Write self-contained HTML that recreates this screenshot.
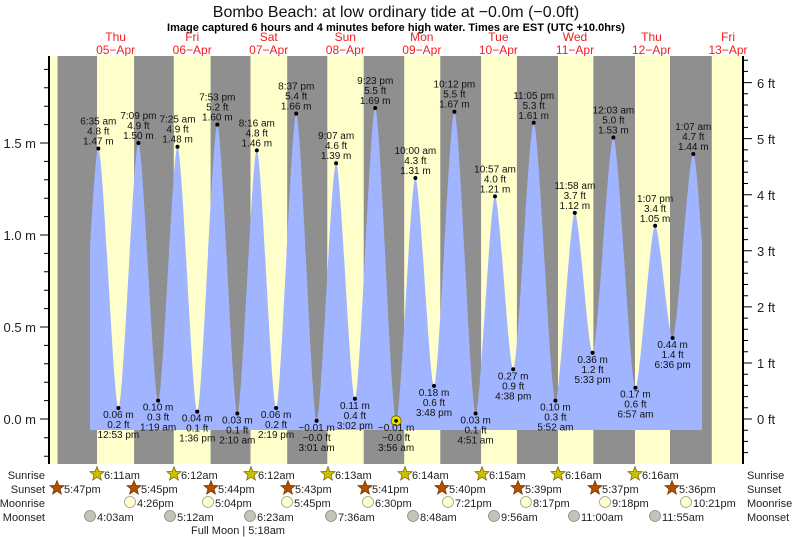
<!DOCTYPE html>
<html><head><meta charset="utf-8"><style>
html,body{margin:0;padding:0;background:#fff;}
svg{display:block;font-family:"Liberation Sans",sans-serif;}
.l text{font-size:10px;text-anchor:middle;fill:#111;}
.r{font-size:11px;fill:#222;}
.rl{font-size:11px;fill:#222;}
</style></head><body>
<svg width="793" height="537" viewBox="0 0 793 537" xmlns="http://www.w3.org/2000/svg">
<defs>
<clipPath id="c"><rect x="90" y="56" width="612" height="408"/></clipPath>
<polygon id="st" points="0,-7.5 1.88,-2.59 7.13,-2.32 3.04,0.99 4.41,6.07 0,3.2 -4.41,6.07 -3.04,0.99 -7.13,-2.32 -1.88,-2.59"/>
</defs>
<text x="396" y="17" font-size="16" text-anchor="middle" fill="#111">Bombo Beach: at low  ordinary tide at −0.0m (−0.0ft)</text>
<text x="396" y="31" font-size="11" font-weight="bold" text-anchor="middle" fill="#000">Image captured 6 hours and 4 minutes before high water. Times are EST (UTC +10.0hrs)</text>
<g font-size="12" fill="#f02020" text-anchor="middle">
<text x="115.6" y="41">Thu</text><text x="115.6" y="54">05−Apr</text>
<text x="192.2" y="41">Fri</text><text x="192.2" y="54">06−Apr</text>
<text x="268.7" y="41">Sat</text><text x="268.7" y="54">07−Apr</text>
<text x="345.3" y="41">Sun</text><text x="345.3" y="54">08−Apr</text>
<text x="421.8" y="41">Mon</text><text x="421.8" y="54">09−Apr</text>
<text x="498.4" y="41">Tue</text><text x="498.4" y="54">10−Apr</text>
<text x="575" y="41">Wed</text><text x="575" y="54">11−Apr</text>
<text x="651.5" y="41">Thu</text><text x="651.5" y="54">12−Apr</text>
<text x="728" y="41">Fri</text><text x="728" y="54">13−Apr</text>
</g>
<rect x="49" y="56" width="694" height="408" fill="#ffffcc"/>
<g fill="#8f8f8f">
<rect x="57.5" y="56" width="39.5" height="408"/>
<rect x="134.1" y="56" width="39.7" height="408"/>
<rect x="210.6" y="56" width="39.9" height="408"/>
<rect x="287.2" y="56" width="40.1" height="408"/>
<rect x="363.7" y="56" width="40.5" height="408"/>
<rect x="440.3" y="56" width="40.8" height="408"/>
<rect x="516.9" y="56" width="41.1" height="408"/>
<rect x="593.4" y="56" width="41.6" height="408"/>
<rect x="670" y="56" width="41.8" height="408"/>
</g>
<path clip-path="url(#c)" fill="#a0b4ff" d="M78.4,430 L78.4,404.3 C83.4,404.3 93.3,148.5 98.3,148.5 C103.3,148.5 113.4,408 118.4,408 C123.4,408 133.4,143 138.4,143 C143.3,143 153.2,400.6 158.1,400.6 C163,400.6 172.6,146.7 177.5,146.7 C182.4,146.7 192.3,411.6 197.2,411.6 C202.2,411.6 212.3,124.6 217.3,124.6 C222.3,124.6 232.3,413.5 237.3,413.5 C242.2,413.5 251.9,150.4 256.8,150.4 C261.7,150.4 271.2,408 276.1,408 C281.1,408 291.2,113.6 296.2,113.6 C301.3,113.6 311.5,420.8 316.6,420.8 C321.5,420.8 331.2,163.2 336.1,163.2 C340.9,163.2 350.1,398.8 354.9,398.8 C360,398.8 370.1,108 375.2,108 C380.4,108 390.9,420.8 396.1,420.8 C401,420.8 410.5,178 415.4,178 C420.1,178 429.3,385.9 434,385.9 C439.1,385.9 449.3,111.7 454.4,111.7 C459.6,111.7 470.4,413.5 475.6,413.5 C480.5,413.5 490.1,196.4 495,196.4 C499.6,196.4 508.6,369.3 513.2,369.3 C518.3,369.3 528.6,122.8 533.7,122.8 C539,122.8 550.1,400.6 555.4,400.6 C560.3,400.6 569.9,212.9 574.8,212.9 C579.4,212.9 588,352.8 592.6,352.8 C597.8,352.8 608.2,137.5 613.4,137.5 C618.8,137.5 630,387.7 635.4,387.7 C640.3,387.7 650.2,225.8 655.1,225.8 C659.6,225.8 668.1,338 672.6,338 C677.7,338 688.2,154 693.3,154 C698.4,154 708.6,373 713.7,373 L713.7,430 Z"/>
<line x1="49" y1="56" x2="49" y2="464" stroke="#000" stroke-width="2"/>
<line x1="743" y1="56" x2="743" y2="464" stroke="#000" stroke-width="2"/>
<g stroke="#000" stroke-width="1">
<path d="M44,456.2H49M44,437.8H49M40,419H49M44,400.6H49M44,382.2H49M44,363.8H49M44,345.4H49M40,327H49M44,308.6H49M44,290.2H49M44,271.8H49M44,253.4H49M40,235H49M44,216.6H49M44,198.2H49M44,179.8H49M44,161.4H49M40,143H49M44,124.6H49M44,106.2H49M44,87.8H49M44,69.4H49"/>
<path d="M743,441.4h5M743,430.2h5M743,419h9M743,407.8h5M743,396.6h5M743,385.4h5M743,374.2h5M743,363h9M743,351.7h5M743,340.5h5M743,329.3h5M743,318.1h5M743,306.9h9M743,295.7h5M743,284.5h5M743,273.2h5M743,262h5M743,250.8h9M743,239.6h5M743,228.4h5M743,217.2h5M743,206h5M743,194.7h9M743,183.5h5M743,172.3h5M743,161.1h5M743,149.9h5M743,138.6h9M743,127.4h5M743,116.2h5M743,105h5M743,93.8h5M743,82.6h9M743,71.4h5M743,60.2h5M743,452.6h5"/>
</g>
<g font-size="13" fill="#222" text-anchor="end">
<text x="36" y="424">0.0 m</text><text x="36" y="332">0.5 m</text><text x="36" y="240">1.0 m</text><text x="36" y="148">1.5 m</text>
</g>
<g font-size="13" fill="#222">
<text x="757" y="424">0 ft</text><text x="757" y="368">1 ft</text><text x="757" y="312">2 ft</text><text x="757" y="256">3 ft</text><text x="757" y="200">4 ft</text><text x="757" y="144">5 ft</text><text x="757" y="88">6 ft</text>
</g>
<g class="l">
<g transform="translate(98.3,148.5)"><circle r="2" fill="#000"/><text y="-24">6:35 am</text><text y="-14">4.8 ft</text><text y="-4">1.47 m</text></g>
<g transform="translate(138.4,143)"><circle r="2" fill="#000"/><text y="-24">7:09 pm</text><text y="-14">4.9 ft</text><text y="-4">1.50 m</text></g>
<g transform="translate(177.5,146.7)"><circle r="2" fill="#000"/><text y="-24">7:25 am</text><text y="-14">4.9 ft</text><text y="-4">1.48 m</text></g>
<g transform="translate(217.3,124.6)"><circle r="2" fill="#000"/><text y="-24">7:53 pm</text><text y="-14">5.2 ft</text><text y="-4">1.60 m</text></g>
<g transform="translate(256.8,150.4)"><circle r="2" fill="#000"/><text y="-24">8:16 am</text><text y="-14">4.8 ft</text><text y="-4">1.46 m</text></g>
<g transform="translate(296.2,113.6)"><circle r="2" fill="#000"/><text y="-24">8:37 pm</text><text y="-14">5.4 ft</text><text y="-4">1.66 m</text></g>
<g transform="translate(336.1,163.2)"><circle r="2" fill="#000"/><text y="-24">9:07 am</text><text y="-14">4.6 ft</text><text y="-4">1.39 m</text></g>
<g transform="translate(375.2,108)"><circle r="2" fill="#000"/><text y="-24">9:23 pm</text><text y="-14">5.5 ft</text><text y="-4">1.69 m</text></g>
<g transform="translate(415.4,178)"><circle r="2" fill="#000"/><text y="-24">10:00 am</text><text y="-14">4.3 ft</text><text y="-4">1.31 m</text></g>
<g transform="translate(454.4,111.7)"><circle r="2" fill="#000"/><text y="-24">10:12 pm</text><text y="-14">5.5 ft</text><text y="-4">1.67 m</text></g>
<g transform="translate(495,196.4)"><circle r="2" fill="#000"/><text y="-24">10:57 am</text><text y="-14">4.0 ft</text><text y="-4">1.21 m</text></g>
<g transform="translate(533.7,122.8)"><circle r="2" fill="#000"/><text y="-24">11:05 pm</text><text y="-14">5.3 ft</text><text y="-4">1.61 m</text></g>
<g transform="translate(574.8,212.9)"><circle r="2" fill="#000"/><text y="-24">11:58 am</text><text y="-14">3.7 ft</text><text y="-4">1.12 m</text></g>
<g transform="translate(613.4,137.5)"><circle r="2" fill="#000"/><text y="-24">12:03 am</text><text y="-14">5.0 ft</text><text y="-4">1.53 m</text></g>
<g transform="translate(655.1,225.8)"><circle r="2" fill="#000"/><text y="-24">1:07 pm</text><text y="-14">3.4 ft</text><text y="-4">1.05 m</text></g>
<g transform="translate(693.3,154)"><circle r="2" fill="#000"/><text y="-24">1:07 am</text><text y="-14">4.7 ft</text><text y="-4">1.44 m</text></g>
<g transform="translate(118.4,408)"><circle r="2" fill="#000"/><text y="10">0.06 m</text><text y="20">0.2 ft</text><text y="30">12:53 pm</text></g>
<g transform="translate(158.1,400.6)"><circle r="2" fill="#000"/><text y="10">0.10 m</text><text y="20">0.3 ft</text><text y="30">1:19 am</text></g>
<g transform="translate(197.2,411.6)"><circle r="2" fill="#000"/><text y="10">0.04 m</text><text y="20">0.1 ft</text><text y="30">1:36 pm</text></g>
<g transform="translate(237.3,413.5)"><circle r="2" fill="#000"/><text y="10">0.03 m</text><text y="20">0.1 ft</text><text y="30">2:10 am</text></g>
<g transform="translate(276.1,408)"><circle r="2" fill="#000"/><text y="10">0.06 m</text><text y="20">0.2 ft</text><text y="30">2:19 pm</text></g>
<g transform="translate(316.6,420.8)"><circle r="2" fill="#000"/><text y="10">−0.01 m</text><text y="20">−0.0 ft</text><text y="30">3:01 am</text></g>
<g transform="translate(354.9,398.8)"><circle r="2" fill="#000"/><text y="10">0.11 m</text><text y="20">0.4 ft</text><text y="30">3:02 pm</text></g>
<g transform="translate(396.1,420.8)"><circle r="5" fill="#e8e000" stroke="#806000" stroke-width="0.8"/><circle r="1.8" fill="#000"/><text y="10">−0.01 m</text><text y="20">−0.0 ft</text><text y="30">3:56 am</text></g>
<g transform="translate(434,385.9)"><circle r="2" fill="#000"/><text y="10">0.18 m</text><text y="20">0.6 ft</text><text y="30">3:48 pm</text></g>
<g transform="translate(475.6,413.5)"><circle r="2" fill="#000"/><text y="10">0.03 m</text><text y="20">0.1 ft</text><text y="30">4:51 am</text></g>
<g transform="translate(513.2,369.3)"><circle r="2" fill="#000"/><text y="10">0.27 m</text><text y="20">0.9 ft</text><text y="30">4:38 pm</text></g>
<g transform="translate(555.4,400.6)"><circle r="2" fill="#000"/><text y="10">0.10 m</text><text y="20">0.3 ft</text><text y="30">5:52 am</text></g>
<g transform="translate(592.6,352.8)"><circle r="2" fill="#000"/><text y="10">0.36 m</text><text y="20">1.2 ft</text><text y="30">5:33 pm</text></g>
<g transform="translate(635.4,387.7)"><circle r="2" fill="#000"/><text y="10">0.17 m</text><text y="20">0.6 ft</text><text y="30">6:57 am</text></g>
<g transform="translate(672.6,338)"><circle r="2" fill="#000"/><text y="10">0.44 m</text><text y="20">1.4 ft</text><text y="30">6:36 pm</text></g>
</g>
<g class="rl" text-anchor="end">
<text x="45" y="479">Sunrise</text><text x="45" y="493">Sunset</text><text x="45" y="507">Moonrise</text><text x="45" y="521">Moonset</text>
</g>
<g class="rl">
<text x="747" y="479">Sunrise</text><text x="747" y="493">Sunset</text><text x="747" y="507">Moonrise</text><text x="747" y="521">Moonset</text>
</g>
<g fill="#c8c000" stroke="#806000" stroke-width="0.7">
<use href="#st" x="97" y="474"/><use href="#st" x="174" y="474"/><use href="#st" x="251" y="474"/><use href="#st" x="328" y="474"/><use href="#st" x="405" y="474"/><use href="#st" x="482" y="474"/><use href="#st" x="558" y="474"/><use href="#st" x="635" y="474"/>
</g>
<g fill="#b05000" stroke="#703000" stroke-width="0.7">
<use href="#st" x="57" y="488"/><use href="#st" x="134" y="488"/><use href="#st" x="211" y="488"/><use href="#st" x="288" y="488"/><use href="#st" x="365" y="488"/><use href="#st" x="442" y="488"/><use href="#st" x="518" y="488"/><use href="#st" x="595" y="488"/><use href="#st" x="672" y="488"/>
</g>
<g fill="#ffffcc" stroke="#999" stroke-width="0.8">
<circle cx="130" cy="502" r="5.5"/><circle cx="208" cy="502" r="5.5"/><circle cx="287" cy="502" r="5.5"/><circle cx="368" cy="502" r="5.5"/><circle cx="448" cy="502" r="5.5"/><circle cx="526" cy="502" r="5.5"/><circle cx="605" cy="502" r="5.5"/><circle cx="686" cy="502" r="5.5"/>
</g>
<g fill="#c4c4b8" stroke="#888" stroke-width="0.8">
<circle cx="90" cy="516" r="5.5"/><circle cx="170" cy="516" r="5.5"/><circle cx="250" cy="516" r="5.5"/><circle cx="331" cy="516" r="5.5"/><circle cx="413" cy="516" r="5.5"/><circle cx="494" cy="516" r="5.5"/><circle cx="574" cy="516" r="5.5"/><circle cx="655" cy="516" r="5.5"/>
</g>
<g class="r">
<text x="104" y="479">6:11am</text><text x="181" y="479">6:12am</text><text x="258" y="479">6:12am</text><text x="335" y="479">6:13am</text><text x="412" y="479">6:14am</text><text x="489" y="479">6:15am</text><text x="565" y="479">6:16am</text><text x="642" y="479">6:16am</text>
<text x="64" y="493">5:47pm</text><text x="141" y="493">5:45pm</text><text x="218" y="493">5:44pm</text><text x="295" y="493">5:43pm</text><text x="372" y="493">5:41pm</text><text x="449" y="493">5:40pm</text><text x="525" y="493">5:39pm</text><text x="602" y="493">5:37pm</text><text x="679" y="493">5:36pm</text>
<text x="137" y="507">4:26pm</text><text x="215" y="507">5:04pm</text><text x="294" y="507">5:45pm</text><text x="375" y="507">6:30pm</text><text x="455" y="507">7:21pm</text><text x="533" y="507">8:17pm</text><text x="612" y="507">9:18pm</text><text x="693" y="507">10:21pm</text>
<text x="97" y="521">4:03am</text><text x="177" y="521">5:12am</text><text x="257" y="521">6:23am</text><text x="338" y="521">7:36am</text><text x="420" y="521">8:48am</text><text x="501" y="521">9:56am</text><text x="581" y="521">11:00am</text><text x="662" y="521">11:55am</text>
</g>
<text x="238" y="534" font-size="11" fill="#222" text-anchor="middle">Full Moon | 5:18am</text>
</svg>
</body></html>
